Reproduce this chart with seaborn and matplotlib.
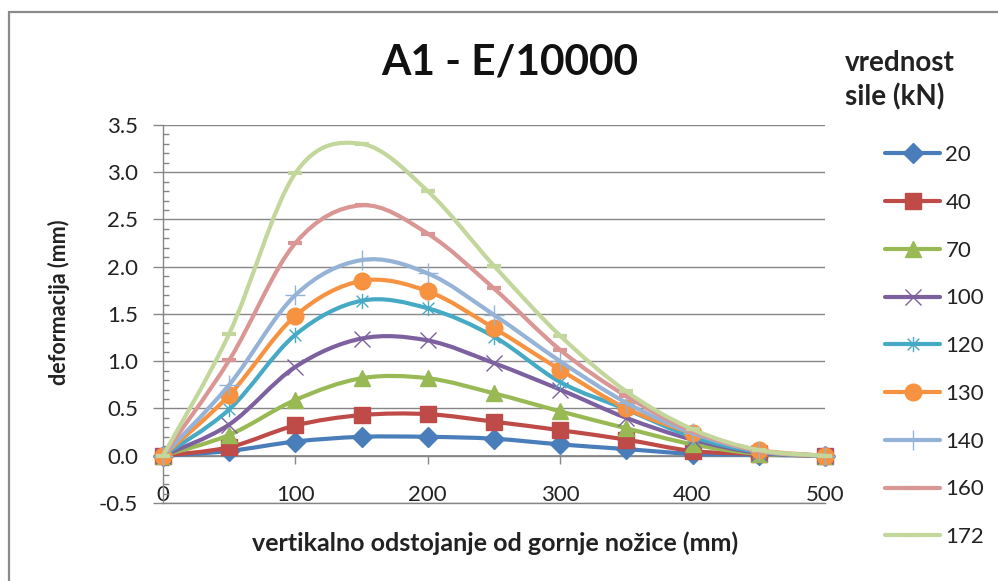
"""A1 - E/10000: deformation along the vertical distance for several load levels."""

import matplotlib

matplotlib.use("Agg")
import matplotlib.pyplot as plt
import numpy as np
import seaborn as sns
from matplotlib.lines import Line2D
from matplotlib.patches import PathPatch, Rectangle
from matplotlib.path import Path

# vertical distance from the upper flange (mm)
x_mm = [0, 50, 100, 150, 200, 250, 300, 350, 400, 450, 500]

# deformation (mm) per load level (kN)
d20 = [0.0, 0.05, 0.15, 0.20, 0.20, 0.18, 0.12, 0.07, 0.02, 0.01, 0.0]
d40 = [0.0, 0.09, 0.32, 0.43, 0.44, 0.36, 0.27, 0.17, 0.05, 0.02, 0.0]
d70 = [0.0, 0.22, 0.59, 0.82, 0.82, 0.66, 0.47, 0.29, 0.12, 0.02, 0.0]
d100 = [0.0, 0.33, 0.94, 1.24, 1.22, 0.98, 0.70, 0.40, 0.17, 0.03, 0.0]
d120 = [0.0, 0.49, 1.28, 1.64, 1.56, 1.26, 0.78, 0.49, 0.20, 0.04, 0.0]
d130 = [0.0, 0.64, 1.48, 1.85, 1.74, 1.35, 0.91, 0.50, 0.24, 0.06, 0.0]
d140 = [0.0, 0.75, 1.70, 2.07, 1.93, 1.49, 1.00, 0.56, 0.24, 0.05, 0.0]
d160 = [0.0, 1.01, 2.25, 2.65, 2.35, 1.77, 1.12, 0.63, 0.26, 0.05, 0.0]
d172 = [0.0, 1.29, 2.99, 3.30, 2.80, 2.01, 1.27, 0.68, 0.28, 0.06, 0.0]

loads = ["20", "40", "70", "100", "120", "130", "140", "160", "172"]
series = [d20, d40, d70, d100, d120, d130, d140, d160, d172]

colors = ["#4A7EBB", "#BE4B48", "#98B954", "#7D60A0", "#46AAC5",
          "#F69240", "#95B3D7", "#D99694", "#C3D69B"]

# x with a vertical bar, like the spreadsheet asterisk
ASTERISK = Path([(-1, -1), (1, 1), (-1, 1), (1, -1), (0, -1.3), (0, 1.3)],
                [Path.MOVETO, Path.LINETO, Path.MOVETO, Path.LINETO, Path.MOVETO, Path.LINETO])

# marker, size, edge width, filled
marker_style = [
    ("D", 10, 1.0, True),
    ("s", 11, 1.0, True),
    ("^", 11, 1.0, True),
    ("x", 11, 1.0, False),
    (ASTERISK, 11, 1.0, False),
    ("o", 12, 1.0, True),
    ("+", 14, 1.0, False),
    ("_", 10, 3.0, False),
    ("_", 10, 3.0, False),
]


def _smooth_path(x, y) -> Path:
    """Cubic Bezier through the points (spreadsheet style smoothing)."""
    pts = np.column_stack([x, y]).astype(float)
    n = len(pts)
    verts = [pts[0]]
    codes = [Path.MOVETO]
    for i in range(n - 1):
        p0 = pts[max(i - 1, 0)]
        p1 = pts[i]
        p2 = pts[i + 1]
        p3 = pts[min(i + 2, n - 1)]
        verts += [p1 + (p2 - p0) / 6.0, p2 - (p3 - p1) / 6.0, p2]
        codes += [Path.CURVE4] * 3
    return Path(verts, codes)


def main() -> None:
    sns.set_theme(style="white")
    plt.rcParams["font.family"] = ["Lato", "DejaVu Sans"]

    fig = plt.figure(figsize=(9.98, 5.81), dpi=100)
    ax = fig.add_axes([0.1633, 0.1343, 0.6633, 0.6506])

    grid_col = "#868686"
    ax.set_xlim(0, 500)
    ax.set_ylim(-0.5, 3.5)
    ax.set_yticks(np.arange(-0.5, 3.51, 0.5))
    ax.set_yticks(np.arange(-0.5, 3.51, 0.1), minor=True)
    ax.set_yticklabels([f"{v:.1f}" for v in np.arange(-0.5, 3.51, 0.5)])
    ax.set_xticks(range(0, 501, 100))
    ax.grid(axis="y", which="major", color=grid_col, lw=1.0)
    ax.set_axisbelow(True)

    for side in ["top", "right"]:
        ax.spines[side].set_visible(False)
    for side in ["left", "bottom"]:
        ax.spines[side].set_color(grid_col)
        ax.spines[side].set_linewidth(1.0)

    ax.tick_params(axis="y", which="major", direction="out", length=7, width=1,
                   color=grid_col, pad=11, labelsize=16, labelcolor="#222222", left=True)
    ax.tick_params(axis="y", which="minor", direction="in", length=4, width=1,
                   color=grid_col, left=True)
    ax.tick_params(axis="x", length=0, pad=-13, labelsize=16, labelcolor="#222222")

    # horizontal axis crossing at zero with its tick marks
    zero_axis = ax.secondary_xaxis(0.125)
    zero_axis.set_xticks(range(0, 501, 100))
    zero_axis.tick_params(axis="x", direction="out", length=6, width=1,
                          color=grid_col, labelbottom=False)
    zero_axis.spines["bottom"].set_color(grid_col)

    handles = []
    for k, (load, vals, col, (mk, ms, mew, filled)) in enumerate(
            zip(loads, series, colors, marker_style)):
        patch = PathPatch(_smooth_path(x_mm, vals), fill=False, edgecolor=col,
                          lw=3.0, capstyle="round", joinstyle="round",
                          clip_on=False, zorder=3 + 2 * k)
        ax.add_patch(patch)
        sns.lineplot(x=x_mm, y=vals, ax=ax, color=col, marker=mk, markersize=ms,
                     linestyle="", markeredgecolor=col, markeredgewidth=mew,
                     markerfacecolor=col if filled else "none",
                     clip_on=False, zorder=4 + 2 * k, legend=False)
        handles.append(Line2D([], [], color=col, lw=3.0, marker=mk, markersize=ms,
                              markeredgecolor=col, markeredgewidth=mew,
                              markerfacecolor=col if filled else "none",
                              solid_capstyle="round"))

    ax.set_xlabel("vertikalno odstojanje od gornje nožice (mm)", fontsize=18,
                  fontweight="bold", color="#222222")
    ax.xaxis.set_label_coords(0.5015, -0.074)
    ax.set_ylabel("deformacija (mm)", fontsize=15.5, fontweight="bold", color="#222222")
    ax.yaxis.set_label_coords(-0.140, 0.532)

    fig.text(0.511, 0.892, "A1 - E/10000", ha="center", va="center",
             fontsize=30.5, fontweight="bold", color="#111111")
    fig.text(0.8467, 0.862, "vrednost\nsile (kN)", ha="left", va="center",
             fontsize=20, fontweight="bold", color="#222222", linespacing=1.3)

    leg = fig.legend(handles, loads, loc="upper left", bbox_to_anchor=(0.887, 0.7504),
                     frameon=False, fontsize=16, handlelength=2.48, handletextpad=0.23,
                     labelspacing=1.25, borderaxespad=0, borderpad=0)
    for txt in leg.get_texts():
        txt.set_color("#222222")

    fig.add_artist(Rectangle((9 / 998, -0.05), 1.1, 1 - 12 / 581 + 0.05,
                             transform=fig.transFigure, fill=False,
                             edgecolor="#8A8A8A", lw=1.6))

    fig.savefig("out.png", dpi=100)
    plt.close(fig)


if __name__ == "__main__":
    main()
